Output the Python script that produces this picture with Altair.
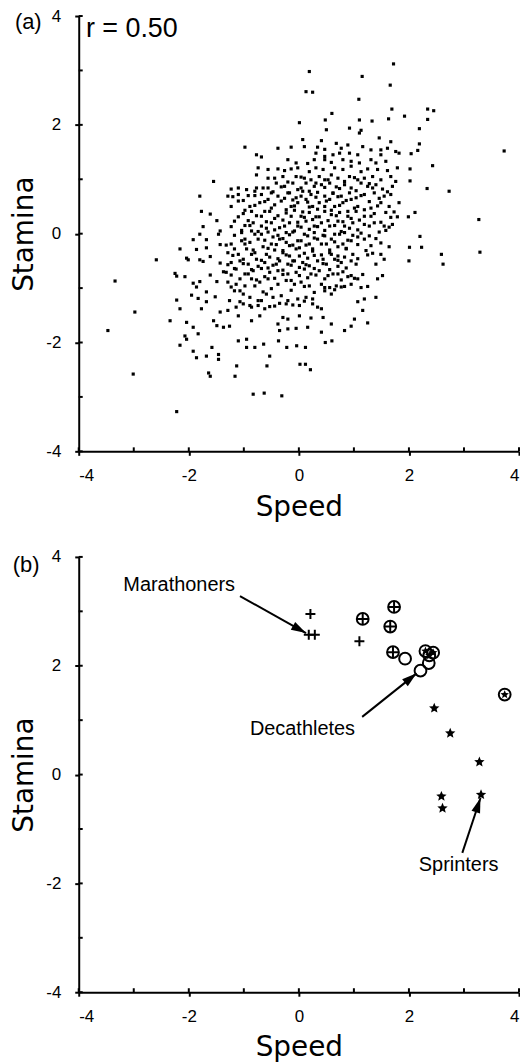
import math
import altair as alt
import pandas as pd

# ---------------- Panel (a): simulated athletes (speed, stamina) ----------------
core_upper = [
    (0.50, 1.91), (0.92, 1.94), (1.13, 1.90), (1.10, 1.85),
    (0.07, 1.73), (0.41, 1.71), (1.46, 1.76), (1.67, 1.69),
    (-0.98, 1.59), (-0.38, 1.57), (-0.14, 1.59), (0.10, 1.60), (0.34, 1.59), (0.47, 1.55),
    (0.68, 1.66), (0.77, 1.57), (0.89, 1.63), (1.16, 1.60), (1.31, 1.54), (1.49, 1.54),
    (1.61, 1.57), (1.76, 1.51),
    (-0.77, 1.45), (-0.68, 1.41), (0.31, 1.48), (0.47, 1.42), (0.62, 1.45), (0.74, 1.48),
    (0.92, 1.48), (1.07, 1.45), (1.49, 1.45), (1.82, 1.48),
    (-0.20, 1.36), (-0.05, 1.30), (0.16, 1.29), (0.28, 1.36), (0.47, 1.36), (0.59, 1.31),
    (0.80, 1.36), (0.95, 1.33), (1.10, 1.30), (1.31, 1.36), (1.40, 1.30), (1.58, 1.33),
    (-0.74, 1.21), (-0.56, 1.18), (-0.38, 1.19), (-0.26, 1.16), (-0.14, 1.19), (-0.02, 1.21),
    (0.19, 1.14), (0.31, 1.21), (0.44, 1.18), (0.65, 1.21), (0.80, 1.18), (0.95, 1.24),
    (1.13, 1.14), (1.25, 1.19), (1.43, 1.18), (1.61, 1.16), (1.79, 1.21),
    (-0.77, 1.08), (-0.44, 1.02), (-0.29, 1.05), (-0.05, 1.05), (0.10, 1.02), (0.22, 0.99),
    (0.37, 1.05), (0.47, 0.99), (0.59, 1.08), (0.71, 1.02), (0.92, 1.05), (1.07, 0.99),
    (1.19, 1.02), (1.34, 1.05), (1.49, 0.99), (1.67, 1.05), (1.76, 0.96),
    (-1.23, 0.82), (-1.10, 0.84), (-0.95, 0.81), (-0.77, 0.84), (-0.56, 0.84), (-0.41, 0.93),
    (-0.26, 0.87), (-0.11, 0.93), (0.04, 0.84), (0.13, 0.93), (0.28, 0.87), (0.41, 0.90),
    (0.56, 0.93), (0.68, 0.86), (0.83, 0.90), (0.95, 0.84), (1.13, 0.93), (1.25, 0.87),
    (1.40, 0.90), (1.52, 0.82), (1.70, 0.87),
    (-1.29, 0.69), (-1.10, 0.72), (-0.92, 0.70), (-0.80, 0.78), (-0.68, 0.72), (-0.50, 0.75),
    (-0.38, 0.69), (-0.20, 0.75), (-0.05, 0.66), (0.07, 0.78), (0.22, 0.72), (0.34, 0.76),
    (0.47, 0.69), (0.62, 0.75), (0.77, 0.69), (0.92, 0.75), (1.04, 0.66), (1.19, 0.72),
    (1.37, 0.75), (1.55, 0.69), (1.67, 0.72),
    (-1.10, 0.60), (-0.89, 0.50), (-0.71, 0.57), (-0.56, 0.63), (-0.44, 0.53), (-0.32, 0.60),
    (-0.14, 0.50), (-0.02, 0.57), (0.13, 0.63), (0.25, 0.50), (0.37, 0.57), (0.50, 0.60),
    (0.65, 0.50), (0.80, 0.57), (0.95, 0.63), (1.07, 0.50), (1.31, 0.47), (1.49, 0.57),
    (1.64, 0.50), (1.82, 0.57),
    (-1.01, 0.37), (-0.86, 0.41), (-0.68, 0.32), (-0.53, 0.41), (-0.38, 0.33), (-0.23, 0.38),
    (-0.08, 0.43), (0.04, 0.32), (0.19, 0.39), (0.31, 0.31), (0.47, 0.41), (0.59, 0.35),
    (0.74, 0.39), (0.89, 0.32), (1.04, 0.41), (1.19, 0.32), (1.37, 0.37), (1.58, 0.39),
    (1.79, 0.31),
    (-1.17, 0.23), (-0.98, 0.15), (-0.83, 0.20), (-0.68, 0.14), (-0.50, 0.20), (-0.35, 0.11),
    (-0.17, 0.20), (-0.02, 0.14), (0.13, 0.23), (0.28, 0.14), (0.41, 0.20), (0.56, 0.14),
    (0.71, 0.23), (0.83, 0.14), (0.98, 0.20), (1.19, 0.17), (1.37, 0.20), (1.55, 0.14),
    (1.70, 0.17),
]

core_upper_dense = [
    (-0.56, 1.02), (-0.20, 0.95), (0.04, 1.04), (0.31, 0.93), (0.53, 0.99), (0.83, 0.96),
    (1.01, 1.03), (1.28, 0.92),
    (-0.65, 0.84), (-0.47, 0.77), (-0.32, 0.86), (-0.17, 0.75), (-0.02, 0.81), (0.19, 0.78),
    (0.47, 0.85), (0.62, 0.74), (0.74, 0.83), (1.04, 0.79), (1.34, 0.84), (1.61, 0.77),
    (-1.20, 0.68), (-1.01, 0.61), (-0.80, 0.70), (-0.62, 0.59), (-0.26, 0.65), (-0.11, 0.62),
    (0.04, 0.69), (0.16, 0.58), (0.31, 0.67), (0.56, 0.63), (0.71, 0.68), (0.86, 0.61),
    (1.13, 0.70), (1.28, 0.59), (1.46, 0.65),
    (-1.23, 0.50), (-0.98, 0.43), (-0.80, 0.52), (-0.62, 0.41), (-0.50, 0.47), (-0.23, 0.44),
    (-0.08, 0.51), (0.07, 0.40), (0.19, 0.49), (0.34, 0.45), (0.47, 0.50), (0.59, 0.43),
    (0.74, 0.52), (0.89, 0.41), (1.01, 0.47), (1.19, 0.44), (1.43, 0.51), (1.73, 0.40),
    (-1.10, 0.31), (-0.92, 0.24), (-0.77, 0.33), (-0.59, 0.22), (-0.44, 0.28), (-0.29, 0.25),
    (-0.14, 0.32), (-0.02, 0.21), (0.10, 0.30), (0.25, 0.26), (0.37, 0.31), (0.53, 0.24),
    (0.68, 0.33), (0.80, 0.22), (0.95, 0.28), (1.10, 0.25), (1.31, 0.32), (1.49, 0.21),
    (1.67, 0.30),
    (-1.23, 0.13), (-1.04, 0.06), (-0.89, 0.15), (-0.74, 0.04), (-0.59, 0.10), (-0.44, 0.07),
    (-0.26, 0.14), (-0.11, 0.03), (0.04, 0.12), (0.19, 0.08), (0.34, 0.13), (0.47, 0.06),
    (0.65, 0.15), (0.77, 0.04), (0.92, 0.10), (1.07, 0.07), (1.28, 0.14), (1.46, 0.03),
    (1.64, 0.12),
]

core_lower = [
    (-1.04, 0.02), (-0.86, 0.05), (-0.68, -0.01), (-0.56, 0.03), (-0.38, -0.03), (-0.23, 0.02),
    (-0.08, 0.05), (0.10, -0.01), (0.28, 0.02), (0.47, -0.04), (0.65, -0.01), (0.83, 0.02),
    (0.98, -0.03), (1.13, 0.01), (1.28, -0.04), (1.58, 0.06),
    (-1.23, -0.19), (-1.04, -0.13), (-0.89, -0.16), (-0.74, -0.10), (-0.50, -0.19), (-0.35, -0.10),
    (-0.23, -0.16), (-0.11, -0.21), (0.04, -0.13), (0.19, -0.19), (0.34, -0.10), (0.50, -0.19),
    (0.65, -0.15), (0.80, -0.19), (0.95, -0.13), (1.19, -0.10), (1.31, -0.22), (1.49, -0.17),
    (1.64, -0.24),
    (-1.29, -0.35), (-1.10, -0.38), (-0.95, -0.28), (-0.80, -0.35), (-0.59, -0.38), (-0.44, -0.30),
    (-0.29, -0.35), (-0.17, -0.41), (-0.05, -0.28), (0.10, -0.36), (0.25, -0.32), (0.41, -0.39),
    (0.56, -0.35), (0.71, -0.41), (0.86, -0.28), (0.98, -0.38), (1.34, -0.36), (1.49, -0.38),
    (1.55, -0.47),
    (-1.23, -0.53), (-1.07, -0.50), (-0.92, -0.56), (-0.77, -0.47), (-0.62, -0.53), (-0.47, -0.58),
    (-0.35, -0.50), (-0.20, -0.56), (-0.08, -0.50), (0.07, -0.53), (0.19, -0.59), (0.34, -0.50),
    (0.50, -0.56), (0.65, -0.47), (0.77, -0.53), (0.95, -0.50), (1.40, -0.56),
    (-1.32, -0.71), (-1.14, -0.65), (-0.98, -0.74), (-0.83, -0.68), (-0.68, -0.64), (-0.53, -0.71),
    (-0.38, -0.68), (-0.20, -0.74), (-0.05, -0.71), (0.10, -0.65), (0.22, -0.74), (0.37, -0.68),
    (0.53, -0.77), (0.71, -0.74), (0.80, -0.70), (0.95, -0.77), (1.07, -0.83), (1.43, -0.83),
    (1.52, -0.77),
    (-1.29, -0.89), (-1.14, -0.93), (-0.98, -0.96), (-0.86, -0.83), (-0.71, -0.89), (-0.56, -0.83),
    (-0.38, -0.93), (-0.23, -0.86), (-0.08, -0.93), (0.04, -0.89), (0.19, -0.96), (0.41, -0.93),
    (0.56, -0.99), (0.68, -0.96), (0.83, -0.97), (0.95, -0.93), (1.13, -0.99), (1.25, -0.97),
    (-1.26, -1.23), (-1.17, -1.05), (-1.01, -1.11), (-0.89, -1.17), (-0.74, -1.23), (-0.59, -1.11),
    (-0.47, -1.17), (-0.32, -1.14), (-0.20, -1.23), (-0.02, -1.20), (0.13, -1.17), (0.25, -1.20),
    (0.47, -1.05), (0.59, -1.11), (1.07, -1.25), (1.19, -1.20), (1.40, -1.17),
    (-1.29, -1.41), (-1.14, -1.35), (-1.01, -1.29), (-0.86, -1.35), (-0.74, -1.32), (-0.62, -1.38),
    (-0.44, -1.33), (-0.23, -1.29), (0.01, -1.32), (0.25, -1.29), (0.41, -1.38), (1.16, -1.41),
    (-1.10, -1.51), (-0.86, -1.60), (-0.71, -1.51), (-0.38, -1.66), (-0.29, -1.54), (-0.20, -1.57),
    (0.01, -1.51), (0.22, -1.55), (0.44, -1.54), (0.59, -1.66), (1.01, -1.57), (1.25, -1.64),
    (-1.26, -1.70), (-0.35, -1.78), (-0.20, -1.75), (-0.05, -1.74), (0.16, -1.72), (0.41, -1.81),
    (0.83, -1.78), (0.95, -1.70),
]

core_lower_dense = [
    (-1.17, -0.03), (-0.98, -0.10), (-0.80, -0.01), (-0.62, -0.12), (-0.47, -0.06), (-0.29, -0.09),
    (-0.17, -0.02), (-0.02, -0.13), (0.16, -0.04), (0.28, -0.08), (0.44, -0.03), (0.59, -0.10),
    (0.74, -0.01), (0.89, -0.12), (1.07, -0.06), (1.40, -0.09),
    (-1.32, -0.21), (-1.17, -0.28), (-0.98, -0.19), (-0.83, -0.30), (-0.65, -0.24), (-0.56, -0.27),
    (-0.41, -0.20), (-0.29, -0.31), (-0.17, -0.22), (0.01, -0.26), (0.13, -0.21), (0.25, -0.28),
    (0.41, -0.19), (0.56, -0.30), (0.71, -0.24), (0.86, -0.27), (1.07, -0.20), (1.22, -0.31),
    (-1.20, -0.40), (-1.01, -0.47), (-0.86, -0.38), (-0.68, -0.49), (-0.53, -0.43), (-0.38, -0.46),
    (-0.23, -0.39), (-0.11, -0.50), (0.01, -0.41), (0.16, -0.45), (0.28, -0.40), (0.44, -0.47),
    (0.59, -0.38), (0.71, -0.49), (0.83, -0.43), (1.07, -0.46), (1.25, -0.39),
    (-1.29, -0.57), (-1.17, -0.64), (-1.01, -0.55), (-0.86, -0.66), (-0.74, -0.60), (-0.56, -0.63),
    (-0.41, -0.56), (-0.29, -0.67), (-0.14, -0.58), (0.01, -0.62), (0.13, -0.57), (0.28, -0.64),
    (0.44, -0.55), (0.56, -0.66), (0.71, -0.60), (0.86, -0.63), (1.04, -0.56),
    (-1.23, -0.76), (-1.07, -0.83), (-0.92, -0.74), (-0.77, -0.85), (-0.62, -0.79), (-0.44, -0.82),
    (-0.29, -0.75), (-0.14, -0.86), (0.01, -0.77), (0.16, -0.81), (0.31, -0.76), (0.47, -0.83),
    (0.62, -0.74), (0.77, -0.85), (0.89, -0.79), (1.01, -0.82), (1.16, -0.75),
    (-1.23, -0.98), (-1.07, -1.05), (-0.80, -0.96), (-0.65, -1.07), (-0.50, -1.01), (-0.14, -1.04),
    (0.10, -0.97), (0.28, -1.08), (0.47, -0.99), (0.65, -1.03), (0.77, -0.98),
    (-1.07, -1.25), (-0.89, -1.32), (-0.68, -1.23), (-0.53, -1.34), (-0.35, -1.28), (-0.11, -1.31),
    (0.10, -1.24), (0.34, -1.35),
]

outer_top = [
    (0.19, 2.98), (1.15, 2.89), (0.13, 2.61), (0.25, 2.60), (1.09, 2.47), (0.60, 2.21),
    (0.01, 2.04), (0.48, 2.09), (1.10, 2.09), (1.33, 2.07), (1.72, 3.12), (1.66, 2.73),
    (1.69, 2.29), (2.34, 2.29), (2.45, 2.26), (1.63, 2.11), (1.92, 2.16), (2.34, 2.10),
]

outer_right = [
    (2.19, 1.93), (2.19, 1.65), (2.16, 1.53), (2.04, 1.47), (3.73, 1.52), (2.43, 1.25),
    (2.02, 1.19), (2.02, 0.97), (2.33, 0.83), (2.73, 0.78), (2.11, 0.39), (1.99, 0.31),
    (3.27, 0.26), (2.20, -0.05), (2.23, -0.25), (2.01, -0.25), (2.59, -0.38), (3.29, -0.34),
    (2.62, -0.56), (2.00, -0.50),
]

outer_left = [
    (-1.55, 0.96), (-1.80, 0.69), (-1.77, 0.41), (-1.61, 0.36), (-1.49, 0.24), (-1.74, 0.13),
    (-1.43, 0.05), (-1.80, -0.01), (-1.46, -0.01), (-1.92, -0.11), (-1.68, -0.11), (-2.01, -0.48),
    (-2.04, -0.45), (-1.86, -0.29), (-1.68, -0.26), (-1.43, -0.20), (-2.16, -0.28), (-2.59, -0.48),
    (-1.80, -0.48), (-1.74, -0.51), (-1.61, -0.42), (-1.43, -0.54), (-2.25, -0.73), (-2.22, -0.78),
    (-2.07, -0.79), (-1.92, -0.91), (-1.80, -0.88), (-1.61, -0.76), (-1.49, -0.88), (-1.37, -0.70),
    (-1.86, -0.98), (-3.34, -0.87),
    (-2.98, -1.44), (-2.22, -1.22), (-2.16, -1.38), (-1.95, -1.13), (-1.83, -1.19), (-1.77, -1.38),
    (-1.68, -1.25), (-1.52, -1.16), (-1.43, -1.44), (-1.68, -1.07), (-2.34, -1.60), (-3.47, -1.78),
    (-2.04, -1.63), (-1.92, -1.72), (-1.83, -1.84), (-1.55, -1.60), (-1.49, -1.69), (-1.37, -1.72),
    (-2.07, -1.88),
]

outer_bottom = [
    (-2.16, -2.05), (-2.04, -1.94), (-1.92, -2.16), (-1.86, -2.28), (-1.68, -2.25), (-1.58, -2.09),
    (-1.46, -2.22), (-1.46, -2.31), (-1.10, -1.97), (-0.95, -1.94), (-0.95, -2.09), (-0.80, -2.09),
    (-0.64, -2.03), (-0.37, -1.97), (-0.22, -2.09), (-0.04, -2.06), (0.12, -2.09), (0.48, -2.00),
    (0.60, -1.97), (-0.53, -2.25), (-0.58, -2.43), (0.02, -2.40), (0.12, -2.40), (0.21, -2.50),
    (-1.13, -2.43), (-3.01, -2.58), (-1.64, -2.56), (-1.61, -2.62), (-1.16, -2.62), (-0.83, -2.95),
    (-0.63, -2.93), (-0.31, -2.98), (-2.22, -3.27),
]

# ---------------- Panel (b): specialists ----------------
marathoners = [(0.21, 2.95), (0.18, 2.57), (0.29, 2.57), (1.10, 2.45)]
circle_plus = [(1.16, 2.86), (1.73, 3.08), (1.66, 2.72), (1.71, 2.25)]
open_circles = [(1.93, 2.13), (2.36, 2.05), (2.21, 1.91)]
circle_star = [(2.30, 2.27), (2.44, 2.24), (2.37, 2.19), (3.74, 1.47)]
sprinters = [(2.46, 1.22), (2.75, 0.76), (3.28, 0.23), (2.59, -0.40), (2.61, -0.62), (3.31, -0.37)]

annot_text = ["Marathoners", "Decathletes", "Sprinters"]
annot_x = [-3.19, -0.89, 2.18]
annot_y = [3.37, 0.72, -1.77]
arrow_x1 = [-1.07, 1.15, 2.97]
arrow_y1 = [3.28, 1.06, -1.44]
arrow_x2 = [0.13, 2.14, 3.30]
arrow_y2 = [2.60, 1.86, -0.43]

all_ticks = [-4, -3, -2, -1, 0, 1, 2, 3, 4]
major_ticks = [-4, -2, 0, 2, 4]

# ---------------- layout / style ----------------
W, H = 442, 437
LABEL_FONT = "Liberation Sans"
TITLE_FONT = "DejaVu Sans"
PLUS = "M-1,0L1,0M0,-1L0,1"
STAR = ("M0,-1L0.265,-0.364L0.951,-0.309L0.428,0.139L0.588,0.809L0,0.45"
        "L-0.588,0.809L-0.428,0.139L-0.951,-0.309L-0.265,-0.364Z")
HEAD = "M0,0L-0.3,1L0.3,1Z"

xscale = alt.Scale(domain=[-4, 4], nice=False, zero=False)
yscale = alt.Scale(domain=[-4, 4], nice=False, zero=False)

xaxis = alt.Axis(values=major_ticks, labelExpr="'' + datum.value", tickSize=4,
                 labelPadding=12, titlePadding=10)
yaxis = alt.Axis(values=major_ticks, labelExpr="'' + datum.value", tickSize=4,
                 labelPadding=14, titlePadding=7)


def df_of(points):
    return pd.DataFrame(points, columns=["speed", "stamina"])


def X(field="speed"):
    return alt.X(f"{field}:Q", scale=xscale, axis=xaxis, title="Speed")


def Y(field="stamina"):
    return alt.Y(f"{field}:Q", scale=yscale, axis=yaxis, title="Stamina")


ticks_df = pd.DataFrame({"v": all_ticks})


def inner_ticks():
    tx = alt.Chart(ticks_df).mark_rule(color="black", strokeWidth=2).encode(
        x=X("v"), y=alt.value(H), y2=alt.value(H - 4))
    ty = alt.Chart(ticks_df).mark_rule(color="black", strokeWidth=2).encode(
        y=Y("v"), x=alt.value(0), x2=alt.value(4))
    return tx, ty


def tag(text, x, y, size):
    d = pd.DataFrame({"speed": [x], "stamina": [y], "t": [text]})
    return alt.Chart(d).mark_text(align="left", baseline="alphabetic", font=LABEL_FONT,
                                  fontSize=size, color="black").encode(
        x=X(), y=Y(), text="t:N")


# Panel (a)
pts_a = df_of(core_upper + core_upper_dense + core_lower + core_lower_dense
              + outer_top + outer_right + outer_left + outer_bottom)
dots = alt.Chart(pts_a).mark_square(size=10, color="black", opacity=1).encode(
    x=X(), y=Y())
tx_a, ty_a = inner_ticks()
panel_a = alt.layer(
    dots, tx_a, ty_a,
    tag("(a)", -5.16, 3.76, 22),
    tag("r = 0.50", -3.87, 3.62, 27),
).properties(width=W, height=H)

# Panel (b)
circles = alt.Chart(df_of(circle_plus + open_circles + circle_star)).mark_point(
    shape="circle", filled=False, color="black", strokeWidth=2, size=140, opacity=1
).encode(x=X(), y=Y())
plus_m = alt.Chart(df_of(marathoners)).mark_point(
    shape=PLUS, filled=False, color="black", strokeWidth=2, size=100, opacity=1
).encode(x=X(), y=Y())
plus_c = alt.Chart(df_of(circle_plus)).mark_point(
    shape=PLUS, filled=False, color="black", strokeWidth=2, size=150, opacity=1
).encode(x=X(), y=Y())
star_s = alt.Chart(df_of(sprinters)).mark_point(
    shape=STAR, filled=True, color="black", size=120, opacity=1, strokeWidth=0
).encode(x=X(), y=Y())
star_c = alt.Chart(df_of(circle_star)).mark_point(
    shape=STAR, filled=True, color="black", size=80, opacity=1, strokeWidth=0
).encode(x=X(), y=Y())

ann = pd.DataFrame({
    "t": annot_text, "tx": annot_x, "ty": annot_y,
    "x1": arrow_x1, "y1": arrow_y1, "x2": arrow_x2, "y2": arrow_y2,
})
ann["angle"] = [
    math.degrees(math.atan2((b - a) * W / 8.0, (d - c) * H / 8.0)) % 360
    for a, b, c, d in zip(ann["x1"], ann["x2"], ann["y1"], ann["y2"])
]
labels_b = alt.Chart(ann).mark_text(align="left", baseline="alphabetic", font=LABEL_FONT,
                                    fontSize=20, color="black").encode(
    x=X("tx"), y=Y("ty"), text="t:N")
shafts = alt.Chart(ann).mark_rule(color="black", strokeWidth=2).encode(
    x=X("x1"), y=Y("y1"), x2="x2:Q", y2="y2:Q")
heads = alt.Chart(ann).mark_point(shape=HEAD, filled=True, color="black", size=900,
                                  opacity=1, strokeWidth=0).encode(
    x=X("x2"), y=Y("y2"), angle=alt.Angle("angle:Q", scale=None))
tx_b, ty_b = inner_ticks()

panel_b = alt.layer(
    circles, plus_m, plus_c, star_s, star_c, shafts, heads, labels_b, tx_b, ty_b,
    tag("(b)", -5.20, 3.72, 22),
).properties(width=W, height=H)

chart = alt.vconcat(panel_a, panel_b, spacing=27).properties(
    padding={"left": 2, "top": -3, "right": 0, "bottom": 0}
).configure_view(stroke=None).configure_axis(
    grid=False,
    domainColor="black", domainWidth=2,
    tickColor="black", tickWidth=2,
    labelFont=LABEL_FONT, labelFontSize=17, labelColor="black",
    titleFont=TITLE_FONT, titleFontSize=28, titleFontWeight="normal", titleColor="black",
)

chart.save("out.html", embed_options={"renderer": "svg", "actions": False})
